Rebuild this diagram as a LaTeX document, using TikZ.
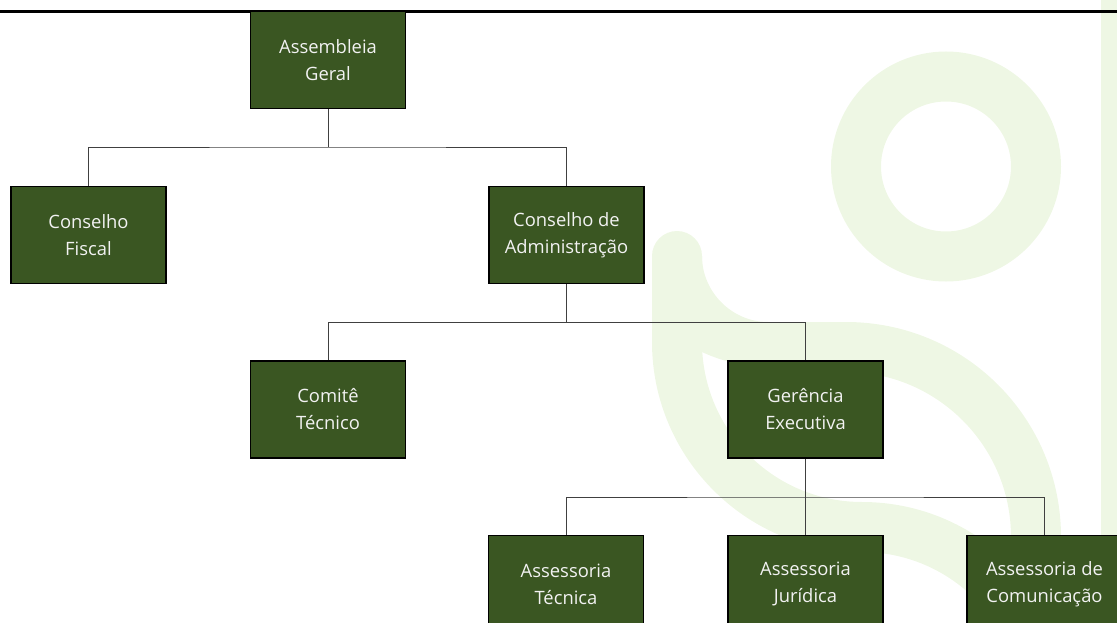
\documentclass[tikz,border=0pt]{standalone}
\usepackage{fontspec}
\setmainfont{Open Sans}
\definecolor{boxgreen}{HTML}{3A5622}
\definecolor{wm}{HTML}{EEF7E4}
\tikzset{
  orgbox/.style={draw=black,line width=1.7pt,fill=boxgreen,minimum width=155pt,minimum height=97pt,
    align=center,text=white!95!black,font=\fontsize{18.4}{27}\selectfont,inner sep=0pt},
  link/.style={draw=black!75,line width=0.9pt},
}
\begin{document}
\begin{tikzpicture}[x=1pt,y=-1pt]
\useasboundingbox (0,0) rectangle (1117,623);
\clip (0,0) rectangle (1117,623);
% watermark
\fill[wm] (1101,0) rectangle (1117,623);
\draw[wm,line width=50pt] (946,166.5) circle[radius=90pt];
\draw[wm,line width=50pt,line cap=round] (677,256) -- (677,342) .. controls (677,444) and (760,527) .. (862,527) .. controls (964,527) and (1047,610) .. (1047,712);
\fill[wm] (702,256) .. controls (702,292) and (732,322) .. (768,322) -- (846,322)
  .. controls (965,322) and (1061,418) .. (1061,537) -- (1011,537)
  .. controls (1011,446) and (937,372) .. (846,372)
  .. controls (790,372) and (740,370) .. (702,352) -- cycle;
% rule
\draw[black,line width=2.2pt] (0,11.5) -- (1117,11.5);
% boxes
\node[orgbox] (ag) at (328,60) {Assembleia\\Geral};
\node[orgbox] (cf) at (88.5,235) {Conselho\\Fiscal};
\node[orgbox] (ca) at (566.5,235) {Conselho de\\Administração};
\node[orgbox] (ct) at (328,409.5) {Comitê\\Técnico};
\node[orgbox] (ge) at (805.5,409.5) {Gerência\\Executiva};
\node[orgbox] (at) at (566,584) {Assessoria\\Técnica};
\node[orgbox] (aj) at (805.5,584) {Assessoria\\Jurídica};
\node[orgbox] (ac) at (1044.5,584) {Assessoria de\\Comunicação};
% connectors
\coordinate (j1) at (328,147);
\coordinate (j2) at (566.5,322.5);
\coordinate (j3) at (805.5,497);
\draw[link] (ag.south) -- (j1);
\draw[link] (cf.north) |- (j1) -| (ca.north);
\draw[link] (ca.south) -- (j2);
\draw[link] (ct.north) |- (j2) -| (ge.north);
\draw[link] (ge.south) -- (j3);
\draw[link] (at.north) |- (j3) -| (ac.north);
\draw[link] (j3) -- (aj.north);
\end{tikzpicture}
\end{document}
